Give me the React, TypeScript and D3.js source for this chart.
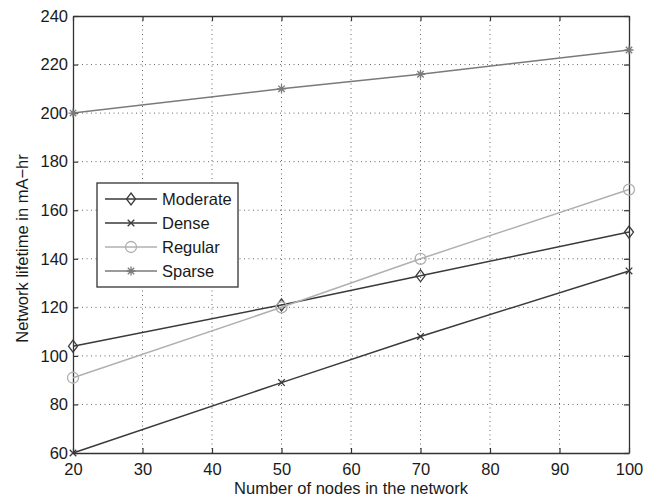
import { useEffect, useRef } from "react";
import * as d3 from "d3";

const nodes = [20, 50, 70, 100];
const moderate = [104, 121, 133, 151];
const dense = [60, 89, 108, 135];
const regular = [91, 120, 140, 168.5];
const sparse = [200, 210, 216, 226];

const xTicks = [20, 30, 40, 50, 60, 70, 80, 90, 100];
const yTicks = [60, 80, 100, 120, 140, 160, 180, 200, 220, 240];

const series = [
  { name: "Moderate", values: moderate, color: "#3a3a3a", marker: "diamond" },
  { name: "Dense", values: dense, color: "#3a3a3a", marker: "x" },
  { name: "Regular", values: regular, color: "#b0b0b0", marker: "circle" },
  { name: "Sparse", values: sparse, color: "#7a7a7a", marker: "star" },
];

const FONT = "'Liberation Sans', Arial, sans-serif";

function drawMarker(g: any, kind: string, cx: number, cy: number, color: string) {
  if (kind === "diamond") {
    g.append("path")
      .attr("d", `M${cx},${cy - 6}L${cx + 4.5},${cy}L${cx},${cy + 6}L${cx - 4.5},${cy}Z`)
      .attr("fill", "none").attr("stroke", color).attr("stroke-width", 1.3);
  } else if (kind === "x") {
    const r = 3.3;
    g.append("path")
      .attr("d", `M${cx - r},${cy - r}L${cx + r},${cy + r}M${cx - r},${cy + r}L${cx + r},${cy - r}`)
      .attr("stroke", color).attr("stroke-width", 1.3);
  } else if (kind === "circle") {
    g.append("circle").attr("cx", cx).attr("cy", cy).attr("r", 5.5)
      .attr("fill", "none").attr("stroke", color).attr("stroke-width", 1.3);
  } else {
    const r = 4.5, d = 3.2;
    g.append("path")
      .attr("d", `M${cx - r},${cy}L${cx + r},${cy}M${cx},${cy - r}L${cx},${cy + r}M${cx - d},${cy - d}L${cx + d},${cy + d}M${cx - d},${cy + d}L${cx + d},${cy - d}`)
      .attr("stroke", color).attr("stroke-width", 1.3);
  }
}

const App = () => {
  const ref = useRef<SVGSVGElement>(null);

  useEffect(() => {
    const svg = d3.select(ref.current);
    svg.selectAll("*").remove();

    const left = 73, right = 629, top = 16, bottom = 453;
    const x = d3.scaleLinear().domain([20, 100]).range([left, right]);
    const y = d3.scaleLinear().domain([60, 240]).range([bottom, top]);

    svg.append("rect").attr("width", 655).attr("height", 497).attr("fill", "#fff");

    // grid
    const grid = svg.append("g").attr("stroke", "#555").attr("stroke-width", 0.9)
      .attr("stroke-dasharray", "1,3.5");
    xTicks.slice(1, -1).forEach((t) => {
      grid.append("line").attr("x1", x(t)).attr("x2", x(t)).attr("y1", top).attr("y2", bottom);
    });
    yTicks.slice(1, -1).forEach((t) => {
      grid.append("line").attr("x1", left).attr("x2", right).attr("y1", y(t)).attr("y2", y(t));
    });

    // axes (ticks inside, boxed)
    const tickLen = 5;
    svg.append("g").attr("transform", `translate(0,${bottom})`)
      .call(d3.axisBottom(x).tickValues(xTicks).tickSizeInner(-tickLen).tickSizeOuter(0).tickPadding(10));
    svg.append("g").attr("transform", `translate(0,${top})`)
      .call(d3.axisTop(x).tickValues(xTicks).tickSizeInner(-tickLen).tickSizeOuter(0).tickFormat(() => ""));
    svg.append("g").attr("transform", `translate(${left},0)`)
      .call(d3.axisLeft(y).tickValues(yTicks).tickSizeInner(-tickLen).tickSizeOuter(0).tickPadding(5));
    svg.append("g").attr("transform", `translate(${right},0)`)
      .call(d3.axisRight(y).tickValues(yTicks).tickSizeInner(-tickLen).tickSizeOuter(0).tickFormat(() => ""));
    svg.selectAll(".domain").attr("stroke", "#333").attr("stroke-width", 1.3);
    svg.selectAll(".tick line").attr("stroke", "#333").attr("stroke-width", 1.2);
    svg.selectAll(".tick text").attr("fill", "#1a1a1a").style("font-family", FONT).style("font-size", "16.5px");

    // lines
    const line = d3.line<number>().x((_, i) => x(nodes[i])).y((v) => y(v));
    series.forEach((s) => {
      svg.append("path").datum(s.values).attr("fill", "none")
        .attr("stroke", s.color).attr("stroke-width", 1.5).attr("d", line);
      const mg = svg.append("g");
      s.values.forEach((v, i) => drawMarker(mg, s.marker, x(nodes[i]), y(v), s.color));
    });

    // legend
    const lg = svg.append("g");
    lg.append("rect").attr("x", 97).attr("y", 183).attr("width", 141).attr("height", 104)
      .attr("fill", "#fff").attr("stroke", "#333").attr("stroke-width", 1.3);
    series.forEach((s, i) => {
      const cy = 199 + i * 24;
      lg.append("line").attr("x1", 105).attr("x2", 157).attr("y1", cy).attr("y2", cy)
        .attr("stroke", s.color).attr("stroke-width", 1.5);
      drawMarker(lg, s.marker, 131, cy, s.color);
      lg.append("text").attr("x", 162).attr("y", cy).attr("dy", "0.35em")
        .attr("fill", "#1a1a1a").style("font-family", FONT).style("font-size", "16.5px").text(s.name);
    });

    // titles
    svg.append("text").attr("x", (left + right) / 2).attr("y", 494).attr("text-anchor", "middle")
      .attr("fill", "#1a1a1a").style("font-family", FONT).style("font-size", "16.5px")
      .text("Number of nodes in the network");
    svg.append("text").attr("transform", `translate(28,${(top + bottom) / 2 + 14}) rotate(-90)`)
      .attr("text-anchor", "middle").attr("fill", "#1a1a1a").style("font-family", FONT).style("font-size", "16.5px")
      .text("Network lifetime in mA\u2212hr");
  });

  return <svg ref={ref} width={655} height={497} style={{ position: "absolute", left: 0, top: 0 }} />;
};

export default App;
